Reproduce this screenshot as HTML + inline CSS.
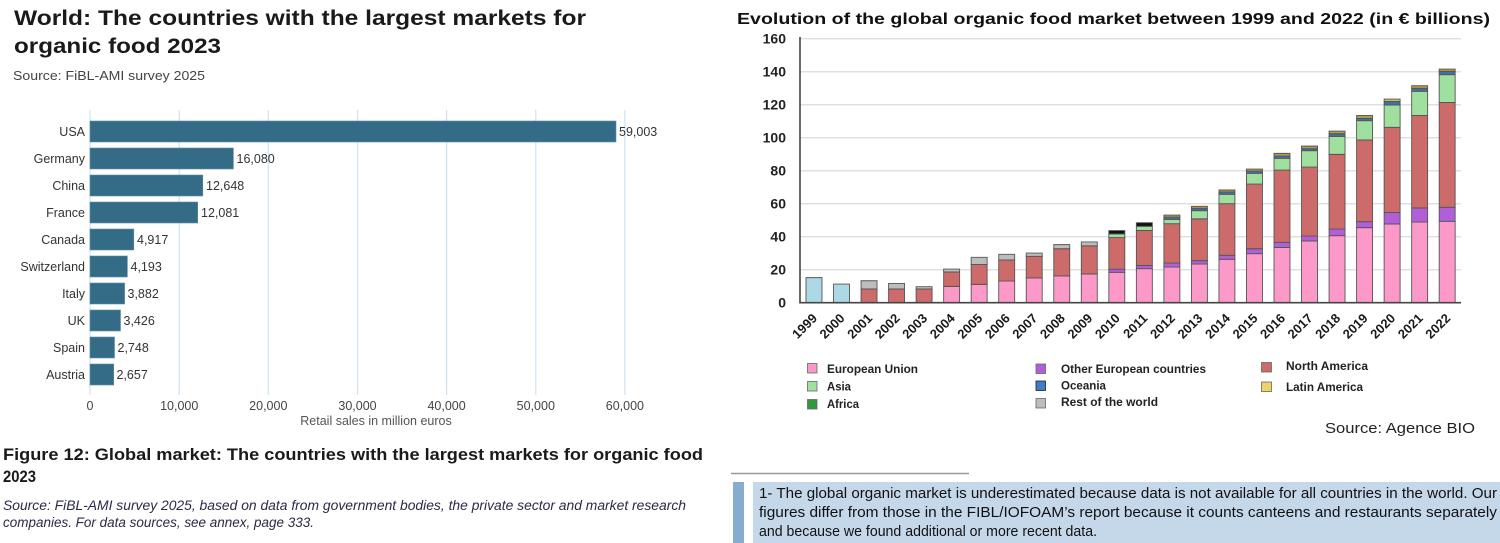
<!DOCTYPE html>
<html><head><meta charset="utf-8">
<style>
html,body{margin:0;padding:0;background:#fff;}
svg{display:block;}
text{font-family:"Liberation Sans",Arial,sans-serif;}
</style></head>
<body>
<svg width="1500" height="543" viewBox="0 0 1500 543" xmlns="http://www.w3.org/2000/svg">
<rect width="1500" height="543" fill="#fff"/>

<!-- ===== LEFT CHART ===== -->
<text x="14" y="25" font-size="21" font-weight="bold" fill="#1a1a1a" textLength="572" lengthAdjust="spacingAndGlyphs">World: The countries with the largest markets for</text>
<text x="14" y="53" font-size="21" font-weight="bold" fill="#1a1a1a" textLength="207" lengthAdjust="spacingAndGlyphs">organic food 2023</text>
<text x="13" y="80" font-size="12.5" fill="#444" textLength="192" lengthAdjust="spacingAndGlyphs">Source: FiBL-AMI survey 2025</text>

<g stroke="#cfe2f0" stroke-width="1.2">
<line x1="90" y1="110" x2="90" y2="395"/>
<line x1="179.2" y1="110" x2="179.2" y2="395"/>
<line x1="268.3" y1="110" x2="268.3" y2="395"/>
<line x1="357.5" y1="110" x2="357.5" y2="395"/>
<line x1="446.6" y1="110" x2="446.6" y2="395"/>
<line x1="535.8" y1="110" x2="535.8" y2="395"/>
<line x1="624.9" y1="110" x2="624.9" y2="395"/>
</g>

<g fill="#346c88" stroke="#5d8ea6" stroke-width="0.6">
<rect x="90" y="121" width="526" height="21"/>
<rect x="90" y="148" width="143.4" height="21"/>
<rect x="90" y="175" width="112.8" height="21"/>
<rect x="90" y="202" width="107.7" height="21"/>
<rect x="90" y="229" width="43.8" height="21"/>
<rect x="90" y="256" width="37.4" height="21"/>
<rect x="90" y="283" width="34.6" height="21"/>
<rect x="90" y="310" width="30.5" height="21"/>
<rect x="90" y="337" width="24.5" height="21"/>
<rect x="90" y="364" width="23.7" height="21"/>
</g>

<g font-size="12.5" fill="#333" text-anchor="end">
<text x="85" y="136">USA</text>
<text x="85" y="163">Germany</text>
<text x="85" y="190">China</text>
<text x="85" y="217">France</text>
<text x="85" y="244">Canada</text>
<text x="85" y="271">Switzerland</text>
<text x="85" y="298">Italy</text>
<text x="85" y="325">UK</text>
<text x="85" y="352">Spain</text>
<text x="85" y="379">Austria</text>
</g>
<g font-size="12.5" fill="#333">
<text x="619" y="136">59,003</text>
<text x="236.5" y="163">16,080</text>
<text x="206" y="190">12,648</text>
<text x="201" y="217">12,081</text>
<text x="137" y="244">4,917</text>
<text x="130.5" y="271">4,193</text>
<text x="127.5" y="298">3,882</text>
<text x="123.5" y="325">3,426</text>
<text x="117.5" y="352">2,748</text>
<text x="116.5" y="379">2,657</text>
</g>

<g font-size="12.5" fill="#444" text-anchor="middle">
<text x="90" y="410">0</text>
<text x="179.2" y="410">10,000</text>
<text x="268.3" y="410">20,000</text>
<text x="357.5" y="410">30,000</text>
<text x="446.6" y="410">40,000</text>
<text x="535.8" y="410">50,000</text>
<text x="624.9" y="410">60,000</text>
<text x="376" y="425" fill="#555">Retail sales in million euros</text>
</g>

<text x="3" y="460" font-size="17" font-weight="bold" fill="#1a1a1a" textLength="700" lengthAdjust="spacingAndGlyphs">Figure 12: Global market: The countries with the largest markets for organic food</text>
<text x="3" y="482" font-size="17" font-weight="bold" fill="#1a1a1a" textLength="33" lengthAdjust="spacingAndGlyphs">2023</text>
<text x="3" y="510" font-size="13.5" font-style="italic" fill="#2a2a48" textLength="683" lengthAdjust="spacingAndGlyphs">Source: FiBL-AMI survey 2025, based on data from government bodies, the private sector and market research</text>
<text x="3" y="527" font-size="13.5" font-style="italic" fill="#2a2a48" textLength="311" lengthAdjust="spacingAndGlyphs">companies. For data sources, see annex, page 333.</text>

<!-- ===== RIGHT CHART ===== -->
<text x="737" y="24" font-size="16" font-weight="bold" fill="#111" textLength="753" lengthAdjust="spacingAndGlyphs">Evolution of the global organic food market between 1999 and 2022 (in € billions)</text>

<g stroke="#e0e0e0" stroke-width="1.5">
<line x1="800" y1="38.7" x2="1461" y2="38.7"/>
<line x1="800" y1="71.7" x2="1461" y2="71.7"/>
<line x1="800" y1="104.7" x2="1461" y2="104.7"/>
<line x1="800" y1="137.7" x2="1461" y2="137.7"/>
<line x1="800" y1="170.7" x2="1461" y2="170.7"/>
<line x1="800" y1="203.7" x2="1461" y2="203.7"/>
<line x1="800" y1="236.7" x2="1461" y2="236.7"/>
<line x1="800" y1="269.7" x2="1461" y2="269.7"/>
</g>

<g font-size="14" font-weight="bold" fill="#222" text-anchor="end">
<text x="786" y="43.7">160</text>
<text x="786" y="76.7">140</text>
<text x="786" y="109.7">120</text>
<text x="786" y="142.7">100</text>
<text x="786" y="175.7">80</text>
<text x="786" y="208.7">60</text>
<text x="786" y="241.7">40</text>
<text x="786" y="274.7">20</text>
<text x="786" y="307.7">0</text>
</g>

<g transform="translate(806,302.7) scale(27.53,-1.65)" stroke="#555" stroke-width="0.9">
<g vector-effect="non-scaling-stroke">
<!-- 1999 -->
<rect x="0" y="0" width="0.58" height="15.2" fill="#add8e6" vector-effect="non-scaling-stroke"/>
<!-- 2000 -->
<rect x="1" y="0" width="0.58" height="11.3" fill="#add8e6" vector-effect="non-scaling-stroke"/>
<!-- 2001 -->
<rect x="2" y="0" width="0.58" height="8.3" fill="#cc6b6a" vector-effect="non-scaling-stroke"/>
<rect x="2" y="8.3" width="0.58" height="5" fill="#bdbdbd" vector-effect="non-scaling-stroke"/>
<!-- 2002 -->
<rect x="3" y="0" width="0.58" height="8.3" fill="#cc6b6a" vector-effect="non-scaling-stroke"/>
<rect x="3" y="8.3" width="0.58" height="3.4" fill="#bdbdbd" vector-effect="non-scaling-stroke"/>
<!-- 2003 -->
<rect x="4" y="0" width="0.58" height="8.3" fill="#cc6b6a" vector-effect="non-scaling-stroke"/>
<rect x="4" y="8.3" width="0.58" height="1.4" fill="#bdbdbd" vector-effect="non-scaling-stroke"/>
<!-- 2004 -->
<rect x="5" y="0" width="0.58" height="9.9" fill="#fd99c9" vector-effect="non-scaling-stroke"/>
<rect x="5" y="9.9" width="0.58" height="8.7" fill="#cc6b6a" vector-effect="non-scaling-stroke"/>
<rect x="5" y="18.6" width="0.58" height="1.8" fill="#bdbdbd" vector-effect="non-scaling-stroke"/>
<!-- 2005 -->
<rect x="6" y="0" width="0.58" height="11.1" fill="#fd99c9" vector-effect="non-scaling-stroke"/>
<rect x="6" y="11.1" width="0.58" height="12.1" fill="#cc6b6a" vector-effect="non-scaling-stroke"/>
<rect x="6" y="23.2" width="0.58" height="4.3" fill="#bdbdbd" vector-effect="non-scaling-stroke"/>
<!-- 2006 -->
<rect x="7" y="0" width="0.58" height="13.1" fill="#fd99c9" vector-effect="non-scaling-stroke"/>
<rect x="7" y="13.1" width="0.58" height="12.8" fill="#cc6b6a" vector-effect="non-scaling-stroke"/>
<rect x="7" y="25.9" width="0.58" height="3.4" fill="#bdbdbd" vector-effect="non-scaling-stroke"/>
<!-- 2007 -->
<rect x="8" y="0" width="0.58" height="15" fill="#fd99c9" vector-effect="non-scaling-stroke"/>
<rect x="8" y="15" width="0.58" height="13.1" fill="#cc6b6a" vector-effect="non-scaling-stroke"/>
<rect x="8" y="28.1" width="0.58" height="2" fill="#bdbdbd" vector-effect="non-scaling-stroke"/>
<!-- 2008 -->
<rect x="9" y="0" width="0.58" height="16.2" fill="#fd99c9" vector-effect="non-scaling-stroke"/>
<rect x="9" y="16.2" width="0.58" height="16.5" fill="#cc6b6a" vector-effect="non-scaling-stroke"/>
<rect x="9" y="32.7" width="0.58" height="2.5" fill="#bdbdbd" vector-effect="non-scaling-stroke"/>
<!-- 2009 -->
<rect x="10" y="0" width="0.58" height="17.4" fill="#fd99c9" vector-effect="non-scaling-stroke"/>
<rect x="10" y="17.4" width="0.58" height="17.1" fill="#cc6b6a" vector-effect="non-scaling-stroke"/>
<rect x="10" y="34.5" width="0.58" height="2.3" fill="#bdbdbd" vector-effect="non-scaling-stroke"/>
<!-- 2010 -->
<rect x="11" y="0" width="0.58" height="18.4" fill="#fd99c9" vector-effect="non-scaling-stroke"/>
<rect x="11" y="18.4" width="0.58" height="1.9" fill="#b05fd8" vector-effect="non-scaling-stroke"/>
<rect x="11" y="20.3" width="0.58" height="19.2" fill="#cc6b6a" vector-effect="non-scaling-stroke"/>
<rect x="11" y="39.5" width="0.58" height="2.2" fill="#9fe09f" vector-effect="non-scaling-stroke"/>
<rect x="11" y="41.7" width="0.58" height="2" fill="#111" vector-effect="non-scaling-stroke"/>
<!-- 2011 -->
<rect x="12" y="0" width="0.58" height="20.6" fill="#fd99c9" vector-effect="non-scaling-stroke"/>
<rect x="12" y="20.6" width="0.58" height="2" fill="#b05fd8" vector-effect="non-scaling-stroke"/>
<rect x="12" y="22.6" width="0.58" height="21.2" fill="#cc6b6a" vector-effect="non-scaling-stroke"/>
<rect x="12" y="43.8" width="0.58" height="2.5" fill="#9fe09f" vector-effect="non-scaling-stroke"/>
<rect x="12" y="46.3" width="0.58" height="2.2" fill="#111" vector-effect="non-scaling-stroke"/>
<!-- 2012 -->
<rect x="13" y="0" width="0.58" height="21.6" fill="#fd99c9" vector-effect="non-scaling-stroke"/>
<rect x="13" y="21.6" width="0.58" height="2.4" fill="#b05fd8" vector-effect="non-scaling-stroke"/>
<rect x="13" y="24" width="0.58" height="23.9" fill="#cc6b6a" vector-effect="non-scaling-stroke"/>
<rect x="13" y="47.9" width="0.58" height="2.6" fill="#9fe09f" vector-effect="non-scaling-stroke"/>
<rect x="13" y="50.5" width="0.58" height="1.4" fill="#3f6fae" vector-effect="non-scaling-stroke"/>
<rect x="13" y="51.9" width="0.58" height="1.2" fill="#b39a45" vector-effect="non-scaling-stroke"/>
<!-- 2013 -->
<rect x="14" y="0" width="0.58" height="23.4" fill="#fd99c9" vector-effect="non-scaling-stroke"/>
<rect x="14" y="23.4" width="0.58" height="2.1" fill="#b05fd8" vector-effect="non-scaling-stroke"/>
<rect x="14" y="25.5" width="0.58" height="25.3" fill="#cc6b6a" vector-effect="non-scaling-stroke"/>
<rect x="14" y="50.8" width="0.58" height="5" fill="#9fe09f" vector-effect="non-scaling-stroke"/>
<rect x="14" y="55.8" width="0.58" height="1.4" fill="#3f6fae" vector-effect="non-scaling-stroke"/>
<rect x="14" y="57.2" width="0.58" height="1.2" fill="#b39a45" vector-effect="non-scaling-stroke"/>
<!-- 2014 -->
<rect x="15" y="0" width="0.58" height="26.3" fill="#fd99c9" vector-effect="non-scaling-stroke"/>
<rect x="15" y="26.3" width="0.58" height="2.4" fill="#b05fd8" vector-effect="non-scaling-stroke"/>
<rect x="15" y="28.7" width="0.58" height="31.3" fill="#cc6b6a" vector-effect="non-scaling-stroke"/>
<rect x="15" y="60" width="0.58" height="5.7" fill="#9fe09f" vector-effect="non-scaling-stroke"/>
<rect x="15" y="65.7" width="0.58" height="1.4" fill="#3f6fae" vector-effect="non-scaling-stroke"/>
<rect x="15" y="67.1" width="0.58" height="1.2" fill="#b39a45" vector-effect="non-scaling-stroke"/>
<!-- 2015 -->
<rect x="16" y="0" width="0.58" height="29.7" fill="#fd99c9" vector-effect="non-scaling-stroke"/>
<rect x="16" y="29.7" width="0.58" height="3" fill="#b05fd8" vector-effect="non-scaling-stroke"/>
<rect x="16" y="32.7" width="0.58" height="39.2" fill="#cc6b6a" vector-effect="non-scaling-stroke"/>
<rect x="16" y="71.9" width="0.58" height="6.5" fill="#9fe09f" vector-effect="non-scaling-stroke"/>
<rect x="16" y="78.4" width="0.58" height="1.4" fill="#3f6fae" vector-effect="non-scaling-stroke"/>
<rect x="16" y="79.8" width="0.58" height="1.2" fill="#b39a45" vector-effect="non-scaling-stroke"/>
<!-- 2016 -->
<rect x="17" y="0" width="0.58" height="33.5" fill="#fd99c9" vector-effect="non-scaling-stroke"/>
<rect x="17" y="33.5" width="0.58" height="3.1" fill="#b05fd8" vector-effect="non-scaling-stroke"/>
<rect x="17" y="36.6" width="0.58" height="43.8" fill="#cc6b6a" vector-effect="non-scaling-stroke"/>
<rect x="17" y="80.4" width="0.58" height="7.1" fill="#9fe09f" vector-effect="non-scaling-stroke"/>
<rect x="17" y="87.5" width="0.58" height="1.4" fill="#3f6fae" vector-effect="non-scaling-stroke"/>
<rect x="17" y="88.9" width="0.58" height="1.6" fill="#b39a45" vector-effect="non-scaling-stroke"/>
<!-- 2017 -->
<rect x="18" y="0" width="0.58" height="37.4" fill="#fd99c9" vector-effect="non-scaling-stroke"/>
<rect x="18" y="37.4" width="0.58" height="3" fill="#b05fd8" vector-effect="non-scaling-stroke"/>
<rect x="18" y="40.4" width="0.58" height="41.8" fill="#cc6b6a" vector-effect="non-scaling-stroke"/>
<rect x="18" y="82.2" width="0.58" height="9.9" fill="#9fe09f" vector-effect="non-scaling-stroke"/>
<rect x="18" y="92.1" width="0.58" height="1.2" fill="#3f6fae" vector-effect="non-scaling-stroke"/>
<rect x="18" y="93.3" width="0.58" height="1.6" fill="#b39a45" vector-effect="non-scaling-stroke"/>
<!-- 2018 -->
<rect x="19" y="0" width="0.58" height="40.6" fill="#fd99c9" vector-effect="non-scaling-stroke"/>
<rect x="19" y="40.6" width="0.58" height="4" fill="#b05fd8" vector-effect="non-scaling-stroke"/>
<rect x="19" y="44.6" width="0.58" height="45.3" fill="#cc6b6a" vector-effect="non-scaling-stroke"/>
<rect x="19" y="89.9" width="0.58" height="10.9" fill="#9fe09f" vector-effect="non-scaling-stroke"/>
<rect x="19" y="100.8" width="0.58" height="1.6" fill="#3f6fae" vector-effect="non-scaling-stroke"/>
<rect x="19" y="102.4" width="0.58" height="1.6" fill="#b39a45" vector-effect="non-scaling-stroke"/>
<!-- 2019 -->
<rect x="20" y="0" width="0.58" height="45.5" fill="#fd99c9" vector-effect="non-scaling-stroke"/>
<rect x="20" y="45.5" width="0.58" height="3.6" fill="#b05fd8" vector-effect="non-scaling-stroke"/>
<rect x="20" y="49.1" width="0.58" height="49.5" fill="#cc6b6a" vector-effect="non-scaling-stroke"/>
<rect x="20" y="98.6" width="0.58" height="11.7" fill="#9fe09f" vector-effect="non-scaling-stroke"/>
<rect x="20" y="110.3" width="0.58" height="1.4" fill="#3f6fae" vector-effect="non-scaling-stroke"/>
<rect x="20" y="111.7" width="0.58" height="1.8" fill="#b39a45" vector-effect="non-scaling-stroke"/>
<!-- 2020 -->
<rect x="21" y="0" width="0.58" height="47.7" fill="#fd99c9" vector-effect="non-scaling-stroke"/>
<rect x="21" y="47.7" width="0.58" height="7" fill="#b05fd8" vector-effect="non-scaling-stroke"/>
<rect x="21" y="54.7" width="0.58" height="51.6" fill="#cc6b6a" vector-effect="non-scaling-stroke"/>
<rect x="21" y="106.3" width="0.58" height="13.5" fill="#9fe09f" vector-effect="non-scaling-stroke"/>
<rect x="21" y="119.8" width="0.58" height="2.2" fill="#3f6fae" vector-effect="non-scaling-stroke"/>
<rect x="21" y="122" width="0.58" height="1.4" fill="#d9b856" vector-effect="non-scaling-stroke"/>
<!-- 2021 -->
<rect x="22" y="0" width="0.58" height="48.9" fill="#fd99c9" vector-effect="non-scaling-stroke"/>
<rect x="22" y="48.9" width="0.58" height="8.5" fill="#b05fd8" vector-effect="non-scaling-stroke"/>
<rect x="22" y="57.4" width="0.58" height="56.1" fill="#cc6b6a" vector-effect="non-scaling-stroke"/>
<rect x="22" y="113.5" width="0.58" height="14.6" fill="#9fe09f" vector-effect="non-scaling-stroke"/>
<rect x="22" y="128.1" width="0.58" height="1.8" fill="#3f6fae" vector-effect="non-scaling-stroke"/>
<rect x="22" y="129.9" width="0.58" height="1.6" fill="#b39a45" vector-effect="non-scaling-stroke"/>
<!-- 2022 -->
<rect x="23" y="0" width="0.58" height="49.3" fill="#fd99c9" vector-effect="non-scaling-stroke"/>
<rect x="23" y="49.3" width="0.58" height="8.5" fill="#b05fd8" vector-effect="non-scaling-stroke"/>
<rect x="23" y="57.8" width="0.58" height="63.6" fill="#cc6b6a" vector-effect="non-scaling-stroke"/>
<rect x="23" y="121.4" width="0.58" height="16.8" fill="#9fe09f" vector-effect="non-scaling-stroke"/>
<rect x="23" y="138.2" width="0.58" height="2" fill="#3f6fae" vector-effect="non-scaling-stroke"/>
<rect x="23" y="140.2" width="0.58" height="1.4" fill="#b39a45" vector-effect="non-scaling-stroke"/>
</g>
</g>

<!-- axes -->
<line x1="800" y1="37" x2="800" y2="303.5" stroke="#444" stroke-width="1.6"/>
<line x1="800" y1="302.7" x2="1461" y2="302.7" stroke="#444" stroke-width="1.6"/>

<!-- x labels -->
<g font-size="13" font-weight="bold" fill="#1a1a1a" text-anchor="end">
<text x="818" y="319" transform="rotate(-45 818 319)">1999</text>
<text x="845.5" y="319" transform="rotate(-45 845.5 319)">2000</text>
<text x="873.1" y="319" transform="rotate(-45 873.1 319)">2001</text>
<text x="900.6" y="319" transform="rotate(-45 900.6 319)">2002</text>
<text x="928.1" y="319" transform="rotate(-45 928.1 319)">2003</text>
<text x="955.7" y="319" transform="rotate(-45 955.7 319)">2004</text>
<text x="983.2" y="319" transform="rotate(-45 983.2 319)">2005</text>
<text x="1010.7" y="319" transform="rotate(-45 1010.7 319)">2006</text>
<text x="1038.2" y="319" transform="rotate(-45 1038.2 319)">2007</text>
<text x="1065.8" y="319" transform="rotate(-45 1065.8 319)">2008</text>
<text x="1093.3" y="319" transform="rotate(-45 1093.3 319)">2009</text>
<text x="1120.8" y="319" transform="rotate(-45 1120.8 319)">2010</text>
<text x="1148.4" y="319" transform="rotate(-45 1148.4 319)">2011</text>
<text x="1175.9" y="319" transform="rotate(-45 1175.9 319)">2012</text>
<text x="1203.4" y="319" transform="rotate(-45 1203.4 319)">2013</text>
<text x="1231" y="319" transform="rotate(-45 1231 319)">2014</text>
<text x="1258.5" y="319" transform="rotate(-45 1258.5 319)">2015</text>
<text x="1286" y="319" transform="rotate(-45 1286 319)">2016</text>
<text x="1313.5" y="319" transform="rotate(-45 1313.5 319)">2017</text>
<text x="1341.1" y="319" transform="rotate(-45 1341.1 319)">2018</text>
<text x="1368.6" y="319" transform="rotate(-45 1368.6 319)">2019</text>
<text x="1396.1" y="319" transform="rotate(-45 1396.1 319)">2020</text>
<text x="1423.7" y="319" transform="rotate(-45 1423.7 319)">2021</text>
<text x="1451.2" y="319" transform="rotate(-45 1451.2 319)">2022</text>
</g>

<!-- legend -->
<g stroke="#666" stroke-width="0.8">
<rect x="807.5" y="363.5" width="9.5" height="9.5" fill="#fd99c9"/>
<rect x="807.5" y="381.5" width="9.5" height="9.5" fill="#9fe09f"/>
<rect x="807.5" y="399.5" width="9.5" height="9.5" fill="#2e9a3a"/>
<rect x="1036" y="364" width="9.5" height="9.5" fill="#b05fd8"/>
<rect x="1036" y="381" width="9.5" height="9.5" fill="#3f7dc8" stroke="#222"/>
<rect x="1036" y="398.5" width="9.5" height="9.5" fill="#bdbdbd"/>
<rect x="1261.5" y="362.5" width="10" height="9.5" fill="#cc6b6a"/>
<rect x="1261.5" y="382" width="10" height="9.5" fill="#f0d26a"/>
</g>
<g font-size="12" font-weight="bold" fill="#222">
<text x="827" y="373" textLength="91" lengthAdjust="spacingAndGlyphs">European Union</text>
<text x="827" y="390.5" textLength="24" lengthAdjust="spacingAndGlyphs">Asia</text>
<text x="827" y="408" textLength="32" lengthAdjust="spacingAndGlyphs">Africa</text>
<text x="1061" y="373" textLength="145" lengthAdjust="spacingAndGlyphs">Other European countries</text>
<text x="1061" y="389.5" textLength="45" lengthAdjust="spacingAndGlyphs">Oceania</text>
<text x="1061" y="406" textLength="97" lengthAdjust="spacingAndGlyphs">Rest of the world</text>
<text x="1286" y="370" textLength="82" lengthAdjust="spacingAndGlyphs">North America</text>
<text x="1286" y="391" textLength="77" lengthAdjust="spacingAndGlyphs">Latin America</text>
</g>
<text x="1325" y="433" font-size="15" fill="#222" textLength="150" lengthAdjust="spacingAndGlyphs">Source: Agence BIO</text>

<!-- footnote -->
<line x1="731" y1="473.5" x2="969" y2="473.5" stroke="#9a9a9a" stroke-width="1.5"/>
<rect x="733" y="482" width="11" height="61" fill="#86acd0"/>
<rect x="753" y="482" width="747" height="61" fill="#c5d8ea"/>
<g font-size="14.5" fill="#111">
<text x="759" y="498" textLength="738" lengthAdjust="spacingAndGlyphs">1- The global organic market is underestimated because data is not available for all countries in the world. Our</text>
<text x="759" y="517" textLength="738" lengthAdjust="spacingAndGlyphs">figures differ from those in the FIBL/IOFOAM’s report because it counts canteens and restaurants separately</text>
<text x="759" y="536" textLength="338" lengthAdjust="spacingAndGlyphs">and because we found additional or more recent data.</text>
</g>
</svg>
</body></html>
